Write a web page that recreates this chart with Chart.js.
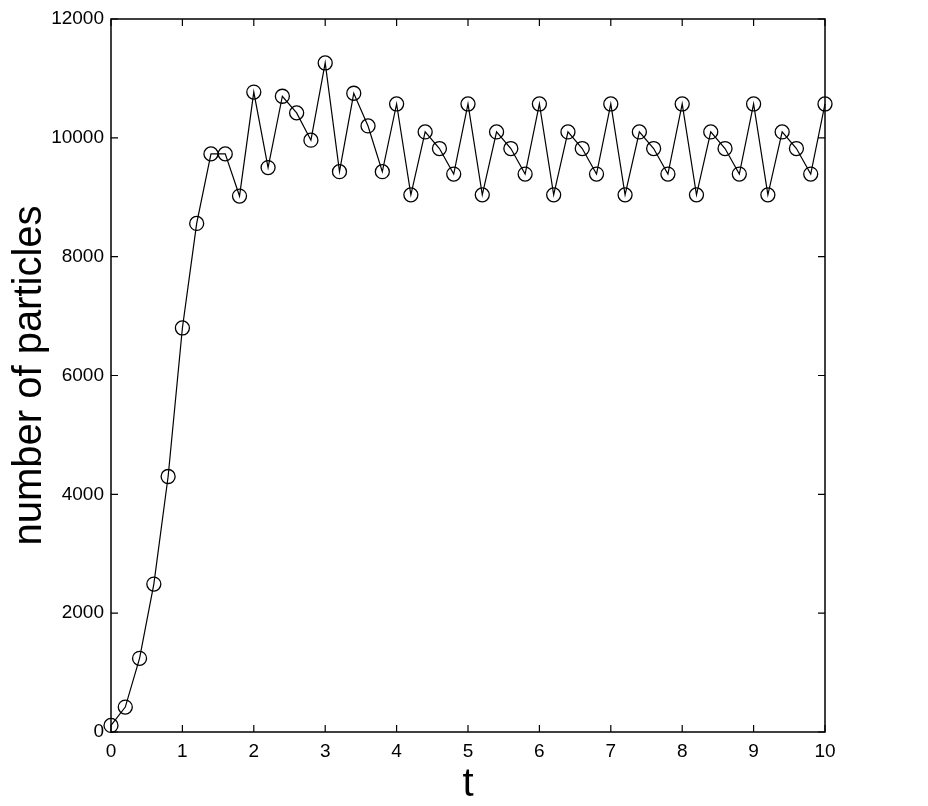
<!DOCTYPE html>
<html>
<head>
<meta charset="utf-8">
<script src="https://cdn.jsdelivr.net/npm/chart.js@4"></script>
<style>
  html, body { margin: 0; padding: 0; background: #fff; }
  #wrap { width: 928px; height: 806px; }
</style>
</head>
<body>
<div id="wrap"><canvas id="chart" width="928" height="806"></canvas></div>
<script>
// time points
const tValues = [
    0, 0.2, 0.4, 0.6, 0.8, 1.0, 1.2, 1.4, 1.6, 1.8,
    2.0, 2.2, 2.4, 2.6, 2.8, 3.0, 3.2, 3.4, 3.6, 3.8,
    4.0, 4.2, 4.4, 4.6, 4.8, 5.0, 5.2, 5.4, 5.6, 5.8,
    6.0, 6.2, 6.4, 6.6, 6.8, 7.0, 7.2, 7.4, 7.6, 7.8,
    8.0, 8.2, 8.4, 8.6, 8.8, 9.0, 9.2, 9.4, 9.6, 9.8, 10.0
];

// number of particles
const particles = [
    110, 420, 1240, 2490, 4300, 6800, 8560, 9730, 9730, 9020,
    10770, 9500, 10700, 10420, 9960, 11260, 9430, 10750, 10200, 9430,
    10570, 9040, 10100, 9820, 9390, 10570, 9040, 10100, 9820, 9390,
    10570, 9040, 10100, 9820, 9390, 10570, 9040, 10100, 9820, 9390,
    10570, 9040, 10100, 9820, 9390, 10570, 9040, 10100, 9820, 9390, 10570
];

const xTicks = [0, 1, 2, 3, 4, 5, 6, 7, 8, 9, 10];
const yTicks = [0, 2000, 4000, 6000, 8000, 10000, 12000];

const FONT = "'Liberation Sans', Arial, Helvetica, sans-serif";

// box frame + inward tick marks on all four sides
const framePlugin = {
    id: 'frame',
    beforeDatasetsDraw(chart) {
        const { ctx, chartArea: a, scales } = chart;
        const len = 7;
        ctx.save();
        ctx.strokeStyle = '#000';
        ctx.lineWidth = 1.5;
        ctx.strokeRect(a.left, a.top, a.right - a.left, a.bottom - a.top);
        ctx.lineWidth = 1.2;
        ctx.beginPath();
        xTicks.forEach(v => {
            const x = scales.x.getPixelForValue(v);
            ctx.moveTo(x, a.bottom); ctx.lineTo(x, a.bottom - len);
            ctx.moveTo(x, a.top); ctx.lineTo(x, a.top + len);
        });
        yTicks.forEach(v => {
            const y = scales.y.getPixelForValue(v);
            ctx.moveTo(a.left, y); ctx.lineTo(a.left + len, y);
            ctx.moveTo(a.right, y); ctx.lineTo(a.right - len, y);
        });
        ctx.stroke();
        ctx.restore();
    }
};

new Chart(document.getElementById('chart'), {
    type: 'line',
    data: {
        labels: tValues,
        datasets: [{
            data: tValues.map((t, i) => ({ x: t, y: particles[i] })),
            borderColor: '#000',
            borderWidth: 1.2,
            pointStyle: 'circle',
            pointRadius: 7,
            pointBorderWidth: 1.3,
            pointBorderColor: '#000',
            pointBackgroundColor: 'rgba(0,0,0,0)',
            tension: 0,
            clip: false
        }]
    },
    options: {
        responsive: false,
        animation: false,
        layout: { padding: { top: 19, right: 103, left: 0, bottom: 0 } },
        plugins: { legend: { display: false }, tooltip: { enabled: false } },
        scales: {
            x: {
                type: 'linear',
                min: 0, max: 10,
                afterBuildTicks: s => { s.ticks = xTicks.map(v => ({ value: v })); },
                afterFit: s => { s.height = 74; },
                grid: { display: false },
                border: { display: false },
                ticks: { color: '#000', font: { family: FONT, size: 19 }, padding: 0, maxRotation: 0, callback: v => String(v) },
                title: { display: true, text: 't', color: '#000', font: { family: FONT, size: 40 }, padding: { top: 4, bottom: -3 } }
            },
            y: {
                type: 'linear',
                min: 0, max: 12000,
                afterBuildTicks: s => { s.ticks = yTicks.map(v => ({ value: v })); },
                afterFit: s => { s.width = 111; },
                grid: { display: false },
                border: { display: false },
                ticks: { color: '#000', font: { family: FONT, size: 19 }, padding: -1, callback: v => String(v) },
                title: { display: true, text: 'number of particles', color: '#000', font: { family: FONT, size: 40 }, padding: { bottom: 0, top: 6 } }
            }
        }
    },
    plugins: [framePlugin]
});
</script>
</body>
</html>
